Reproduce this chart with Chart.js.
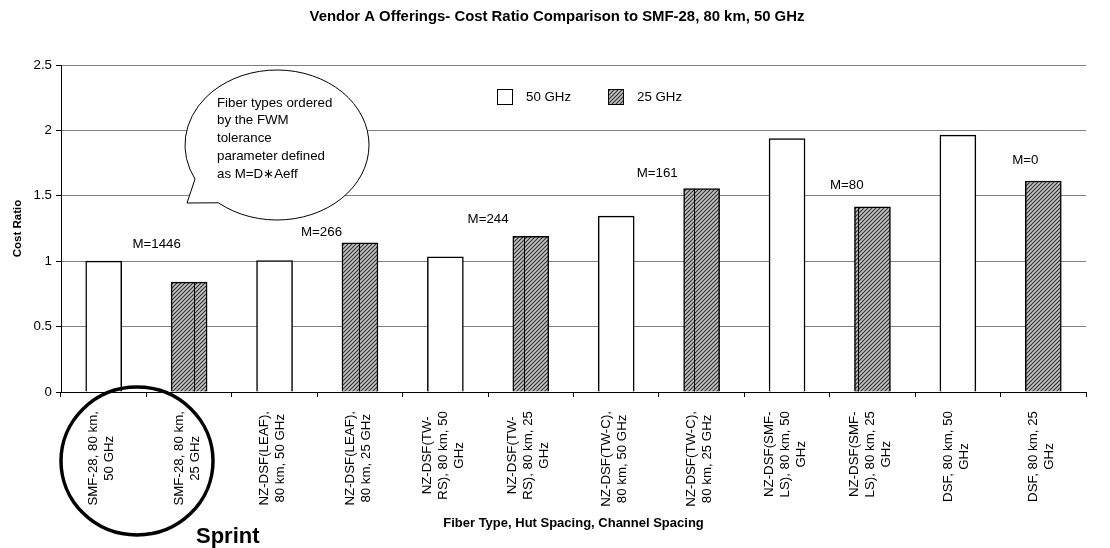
<!DOCTYPE html>
<html>
<head>
<meta charset="utf-8">
<script src="https://cdn.jsdelivr.net/npm/chart.js@4.4.1/dist/chart.umd.min.js"></script>
<style>
  html, body { margin: 0; padding: 0; background: #fff; }
  #wrap { width: 1110px; height: 548px; position: relative; }
</style>
</head>
<body>
<div id="wrap"><canvas id="costChart"></canvas></div>
<script>
// ---- data ----
const categories = [
  ['SMF-28, 80 km,', '50 GHz'],
  ['SMF-28, 80 km,', '25 GHz'],
  ['NZ-DSF(LEAF),', '80 km, 50 GHz'],
  ['NZ-DSF(LEAF),', '80 km, 25 GHz'],
  ['NZ-DSF(TW-', 'RS), 80 km, 50', 'GHz'],
  ['NZ-DSF(TW-', 'RS), 80 km, 25', 'GHz'],
  ['NZ-DSF(TW-C),', '80 km, 50 GHz'],
  ['NZ-DSF(TW-C),', '80 km, 25 GHz'],
  ['NZ-DSF(SMF-', 'LS), 80 km, 50', 'GHz'],
  ['NZ-DSF(SMF-', 'LS), 80 km, 25', 'GHz'],
  ['DSF, 80 km, 50', 'GHz'],
  ['DSF, 80 km, 25', 'GHz']
];
const cost50 = [1.00, null, 1.005, null, 1.033, null, 1.345, null, 1.937, null, 1.964, null];
const cost25 = [null, 0.84, null, 1.14, null, 1.19, null, 1.555, null, 1.415, null, 1.613];
const seriesNames = ['50 GHz', '25 GHz'];
const yTicks = [0, 0.5, 1, 1.5, 2, 2.5];

// M labels: position given as (category index, cost ratio)
const mLabels = ['M=1446', 'M=266', 'M=244', 'M=161', 'M=80', 'M=0'];
const mAtCat = [0.62, 2.55, 4.50, 6.48, 8.70, 10.79];
const mAtVal = [1.13, 1.22, 1.32, 1.67, 1.58, 1.77];

const calloutLines = ['Fiber types ordered', 'by the FWM', 'tolerance', 'parameter defined', 'as M=D\u2217Aeff'];

const chartTitle = 'Vendor A Offerings- Cost Ratio Comparison to SMF-28, 80 km, 50 GHz';
const xTitle = 'Fiber Type, Hut Spacing, Channel Spacing';
const yTitle = 'Cost Ratio';

// ---- styles ----
const FONT = '"Liberation Sans", Arial, Helvetica, sans-serif';
// the pattern fill in the original has a dark seam line in some bars (fraction of bar width)
const SEAM = [null, 0.63, null, 0.48, null, 0.31, null, 0.28, null, 0.09, null, null];

function makeHatch(ctx) {
  const c = document.createElement('canvas');
  c.width = 4; c.height = 4;
  const g = c.getContext('2d');
  g.fillStyle = '#c4c4c4';
  g.fillRect(0, 0, 4, 4);
  g.strokeStyle = '#2e2e2e';
  g.lineWidth = 1.1;
  g.beginPath();
  g.moveTo(0, 4); g.lineTo(4, 0);
  g.moveTo(-1, 1); g.lineTo(1, -1);
  g.moveTo(3, 5); g.lineTo(5, 3);
  g.stroke();
  return ctx.createPattern(c, 'repeat');
}

const canvas = document.getElementById('costChart');
const ctx0 = canvas.getContext('2d');
const hatch = makeHatch(ctx0);

// ---- extras drawn on top: title, tick labels, M labels, callout, legend, Sprint ----
const extras = {
  id: 'extras',
  afterDraw(chart) {
    const { ctx, scales: { x, y } } = chart;
    const axisY = y.getPixelForValue(0);
    ctx.save();

    // seam lines inside the hatched bars
    const meta = chart.getDatasetMeta(1);
    meta.data.forEach((bar, i) => {
      if (SEAM[i] == null || cost25[i] == null) return;
      const p = bar.getProps(['x', 'y', 'base', 'width'], true);
      const sx = Math.round(p.x - p.width / 2 + SEAM[i] * p.width) + 0.5;
      ctx.beginPath();
      ctx.moveTo(sx, p.y);
      ctx.lineTo(sx, p.base);
      ctx.strokeStyle = '#000';
      ctx.lineWidth = 1;
      ctx.stroke();
    });

    ctx.fillStyle = '#000';
    ctx.textBaseline = 'middle';

    // chart title (Excel places it a bit right of the canvas centre)
    ctx.font = 'bold 14.9px ' + FONT;
    ctx.textAlign = 'center';
    ctx.fillText(chartTitle, 557, 17);

    // rotated, centred multi-line category labels
    ctx.font = '13.3px ' + FONT;
    const lineH = 16;
    categories.forEach((lines, i) => {
      const px = x.getPixelForValue(i) - 2;
      const maxW = Math.max(...lines.map(l => ctx.measureText(l).width));
      ctx.save();
      ctx.translate(px, axisY);
      ctx.rotate(-Math.PI / 2);
      lines.forEach((l, j) => {
        const off = (j - (lines.length - 1) / 2) * lineH;
        ctx.fillText(l, -(19 + maxW / 2), off);
      });
      ctx.restore();
    });

    // M annotations
    const step = x.getPixelForValue(1) - x.getPixelForValue(0);
    const x0 = x.getPixelForValue(0);
    mLabels.forEach((t, i) => {
      ctx.fillText(t, x0 + mAtCat[i] * step, y.getPixelForValue(mAtVal[i]));
    });

    // callout bubble
    ctx.beginPath();
    ctx.ellipse(277, 145, 92, 75, 0, Math.PI * 0.72, Math.PI * 0.85, true);
    ctx.lineTo(187, 203);
    ctx.closePath();
    ctx.fillStyle = '#fff';
    ctx.fill();
    ctx.strokeStyle = '#000';
    ctx.lineWidth = 1;
    ctx.stroke();
    ctx.fillStyle = '#000';
    ctx.textAlign = 'left';
    calloutLines.forEach((l, j) => ctx.fillText(l, 217, 103 + j * 17.8));

    // legend
    const lgY = 97;
    const boxes = [{ x: 497, fill: '#fff' }, { x: 608, fill: hatch }];
    boxes.forEach((b, k) => {
      ctx.fillStyle = b.fill;
      ctx.fillRect(b.x, lgY - 7.5, 15, 15);
      ctx.strokeStyle = '#000';
      ctx.lineWidth = 1;
      ctx.strokeRect(b.x + 0.5, lgY - 7.5, 15, 15);
      ctx.fillStyle = '#000';
      ctx.fillText(seriesNames[k], b.x + 29, lgY);
    });

    // Sprint circle
    ctx.beginPath();
    ctx.ellipse(137, 461, 76, 74, 0, 0, Math.PI * 2);
    ctx.lineWidth = 3.5;
    ctx.strokeStyle = '#000';
    ctx.stroke();
    ctx.font = 'bold 22px ' + FONT;
    ctx.textAlign = 'left';
    ctx.fillText('Sprint', 196, 537);

    ctx.restore();
  }
};

new Chart(canvas, {
  type: 'bar',
  data: {
    labels: categories,
    datasets: [
      {
        label: seriesNames[0],
        data: cost50,
        backgroundColor: '#fff',
        borderColor: '#000',
        borderWidth: 1.5
      },
      {
        label: seriesNames[1],
        data: cost25,
        backgroundColor: hatch,
        borderColor: '#000',
        borderWidth: 1.5
      }
    ]
  },
  options: {
    responsive: true,
    maintainAspectRatio: false,
    animation: false,
    skipNull: true,
    barThickness: 36,
    layout: { padding: { left: 0, right: 24, top: 65, bottom: 0 } },
    plugins: {
      legend: { display: false },
      tooltip: { enabled: false },
      title: { display: false }
    },
    scales: {
      x: {
        offset: true,
        grid: { display: true, offset: true, drawOnChartArea: false, drawTicks: true, tickLength: 5, color: '#000' },
        border: { color: '#000', width: 1 },
        ticks: { display: false },
        title: {
          display: true,
          text: xTitle,
          color: '#000',
          font: { family: FONT, size: 13, weight: 'bold' },
          padding: { top: 0, bottom: 17 }
        },
        afterFit: (s) => { s.height = 156; }
      },
      y: {
        min: 0,
        max: 2.5,
        afterBuildTicks: (s) => { s.ticks = yTicks.map(v => ({ value: v })); },
        ticks: {
          color: '#000',
          padding: 4,
          font: { family: FONT, size: 13.3 },
          callback: (v) => String(v)
        },
        grid: { color: '#808080', lineWidth: 1, tickColor: '#000', tickLength: 5 },
        border: { color: '#000', width: 1 },
        title: {
          display: true,
          text: yTitle,
          color: '#000',
          font: { family: FONT, size: 11.5, weight: 'bold' },
          padding: { top: 11, bottom: 0 }
        },
        afterFit: (s) => { s.width = 61; }
      }
    }
  },
  plugins: [extras]
});
</script>
</body>
</html>
